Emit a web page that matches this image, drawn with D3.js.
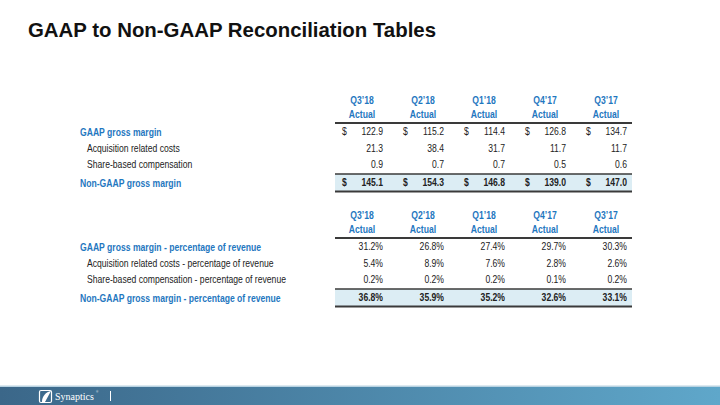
<!DOCTYPE html>
<html><head><meta charset="utf-8">
<script src="https://cdn.jsdelivr.net/npm/d3@7"></script>
<style>body{margin:0;background:#fff}svg{display:block}</style>
</head><body>
<svg id="c" width="720" height="405"></svg>
<script>
const quarters = ["Q3’18","Q2’18","Q1’18","Q4’17","Q3’17"];
const headerSub = "Actual";
const gaapGM = [122.9,115.2,114.4,126.8,134.7];
const acqCosts = [21.3,38.4,31.7,11.7,11.7];
const sbc = [0.9,0.7,0.7,0.5,0.6];
const nonGaapGM = [145.1,154.3,146.8,139.0,147.0];
const gaapPct = [31.2,26.8,27.4,29.7,30.3];
const acqPct = [5.4,8.9,7.6,2.8,2.6];
const sbcPct = [0.2,0.2,0.2,0.1,0.2];
const nonGaapPct = [36.8,35.9,35.2,32.6,33.1];
const labels1 = ["GAAP gross margin","Acquisition related costs","Share-based compensation","Non-GAAP gross margin"];
const labels2 = ["GAAP gross margin - percentage of revenue","Acquisition related costs - percentage of revenue","Share-based compensation - percentage of revenue","Non-GAAP gross margin - percentage of revenue"];

const svg = d3.select("#c");
const FONT = "'Liberation Sans',Arial,sans-serif";
const BLUE = "#1f77c0";
const SX = 0.82;
const x = d3.scaleBand().domain(quarters).range([335, 640]).padding(0);

svg.append("text").attr("x",28).attr("y",37).attr("font-family",FONT)
  .attr("font-weight","bold").attr("font-size",20.5).attr("fill","#111")
  .attr("textLength",408).attr("lengthAdjust","spacingAndGlyphs")
  .text("GAAP to Non-GAAP Reconciliation Tables");

function txt(g, px, py, s, o){
  return g.append("text").attr("transform",`translate(${px},${py}) scale(${SX},1)`)
    .attr("text-anchor",o.anchor||"start").attr("font-size",o.size||10.5)
    .attr("font-weight",o.bold?"bold":"normal").attr("fill",o.fill||"#222").text(s);
}

function table(top, labels, rows, fmt, dollars){
  const g = svg.append("g").attr("font-family",FONT);
  const rowY = [top+31, top+47.5, top+64, top+81.5];
  quarters.forEach(q=>{
    const cx = x(q)+27;
    txt(g, cx, top, q, {anchor:"middle", bold:true, fill:BLUE});
    txt(g, cx, top+13.5, headerSub, {anchor:"middle", bold:true, fill:BLUE});
  });
  g.append("line").attr("x1",335).attr("x2",632).attr("y1",top+19).attr("y2",top+19)
    .attr("stroke","#3a3a3a").attr("stroke-width",2);
  g.append("rect").attr("x",335).attr("width",297).attr("y",top+70).attr("height",17.5).attr("fill","#dcedf4");
  g.append("line").attr("x1",335).attr("x2",632).attr("y1",top+70).attr("y2",top+70)
    .attr("stroke","#3a3a3a").attr("stroke-width",1.5);
  g.append("line").attr("x1",335).attr("x2",632).attr("y1",top+87.5).attr("y2",top+87.5)
    .attr("stroke","#3a3a3a").attr("stroke-width",2.2);
  labels.forEach((l,i)=>{
    const main = i===0||i===3;
    txt(g, main?80:87, rowY[i]+(main?1:0), l, {size:10.5, bold:main, fill:main?BLUE:"#222"});
  });
  rows.forEach((vals,i)=>{
    const bold = i===3;
    vals.forEach((v,j)=>{
      const q = quarters[j];
      if(dollars[i]) txt(g, x(q)+7, rowY[i], "$", {bold});
      txt(g, x(q)+48, rowY[i], fmt(v), {anchor:"end", bold});
    });
  });
}
table(104, labels1, [gaapGM,acqCosts,sbc,nonGaapGM], d=>d.toFixed(1), [true,false,false,true]);
table(219, labels2, [gaapPct,acqPct,sbcPct,nonGaapPct], d=>d.toFixed(1)+"%", [false,false,false,false]);

// footer
const defs = svg.append("defs");
const gr = defs.append("linearGradient").attr("id","fg").attr("x1","0").attr("x2","1");
gr.append("stop").attr("offset","0").attr("stop-color","#3b6789");
gr.append("stop").attr("offset","1").attr("stop-color","#5fa7ca");
svg.append("rect").attr("x",0).attr("y",385.5).attr("width",720).attr("height",1.5).attr("fill","#b9d3e2");
svg.append("rect").attr("x",0).attr("y",387).attr("width",720).attr("height",18).attr("fill","url(#fg)");
const lg = svg.append("g");
lg.append("rect").attr("x",39.5).attr("y",390.5).attr("width",12).attr("height",12).attr("rx",1.5)
  .attr("fill","none").attr("stroke","#fff").attr("stroke-width",1.2);
lg.append("path").attr("d","M42 402 C42 396 46 392 51 391 C49 395 47 398 45 402 Z").attr("fill","#fff");
lg.append("text").attr("x",55).attr("y",400).attr("font-family","'Liberation Serif','DejaVu Serif',serif")
  .attr("font-size",10).attr("fill","#fff").text("Synaptics");
lg.append("text").attr("x",96).attr("y",393).attr("font-family","'Liberation Serif',serif").attr("font-size",3).attr("fill","#fff").text("®");
lg.append("line").attr("x1",110.5).attr("x2",110.5).attr("y1",391).attr("y2",401).attr("stroke","#fff").attr("stroke-width",1);
</script>
</body></html>
